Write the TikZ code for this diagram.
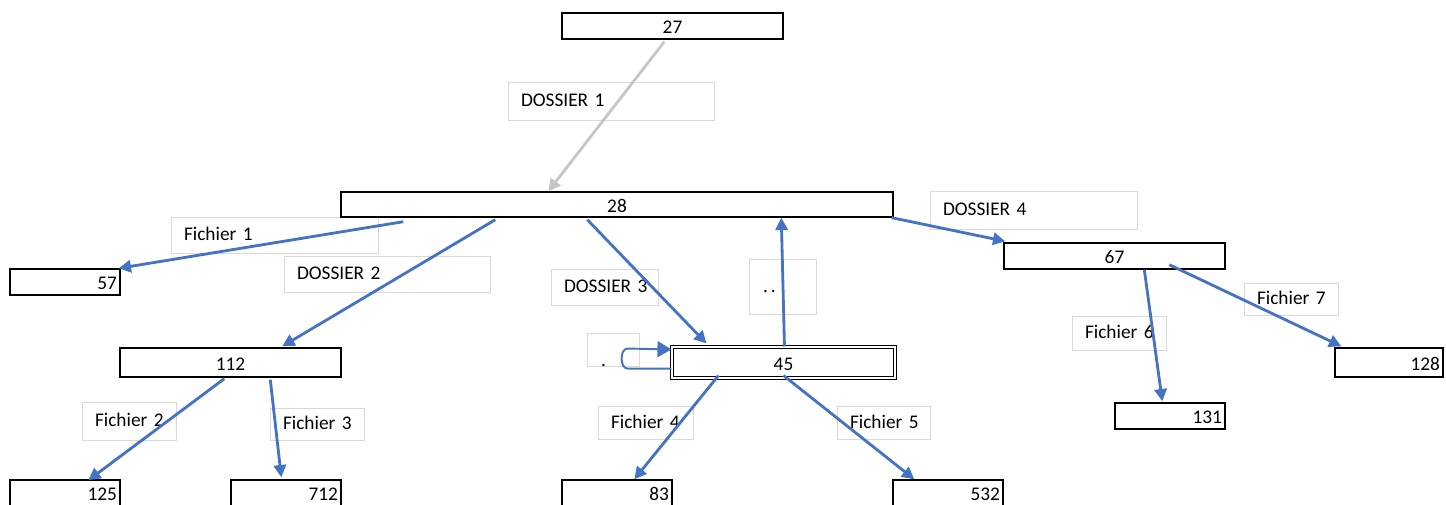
\documentclass[tikz,border=0pt]{standalone}
\usepackage{fontspec}
\setmainfont{Carlito}
\usetikzlibrary{arrows.meta,calc}
\newdimen\pxu
\pxu=0.02cm
\definecolor{arrblue}{HTML}{4472C4}
\definecolor{lblgray}{HTML}{D9D9D9}
\tikzset{
  numbox/.style={draw=black, line width=0.8pt, fill=white, inner ysep=0pt, inner xsep=3\pxu,
     font=\fontsize{11}{13}\selectfont, text height=2.0ex, text depth=0.2ex},
  lblbox/.style={draw=lblgray, line width=0.5pt, inner ysep=0pt, inner xsep=13\pxu, align=left,
     font=\fontsize{11}{13}\selectfont, text height=1.6ex, text depth=0.2ex},
  arr/.style={draw=arrblue, line width=1.6pt, -{Triangle[length=7pt,width=7pt]}},
  grayarr/.style={draw=lightgray!90!white, line width=1.6pt, -{Triangle[length=7pt,width=7pt]}},
}
\begin{document}
\begin{tikzpicture}[x=\pxu, y=-\pxu]
\useasboundingbox (0,0) rectangle (1446,504);
% label boxes
\node[lblbox, minimum width=206\pxu, minimum height=38\pxu, text width=180\pxu] (lD1) at (611,101) {\mbox{DOSSIER 1}};
\node[lblbox, minimum width=207\pxu, minimum height=36\pxu, text width=181\pxu] (lF1) at (274.5,235) {\mbox{Fichier 1}};
\node[lblbox, minimum width=206\pxu, minimum height=36\pxu, text width=180\pxu] (lD2) at (387,274) {\mbox{DOSSIER 2}};
\node[lblbox, minimum width=107\pxu, minimum height=36\pxu, text width=81\pxu] (lD3) at (604.5,287) {\mbox{DOSSIER 3}};
\node[draw=lblgray, line width=0.5pt, inner sep=0pt, minimum width=67\pxu, text width=67\pxu, align=left, text height=33\pxu, text depth=22\pxu, font=\fontsize{11}{13}\selectfont] (ldd) at (782.5,287) {\hspace*{14\pxu}.\hspace{3\pxu}.};
\node[draw=lblgray, line width=0.5pt, inner sep=0pt, minimum width=52\pxu, text width=52\pxu, align=left, text height=33\pxu, text depth=0pt, font=\fontsize{11}{13}\selectfont] (ldot) at (613,349.5) {\hspace*{14\pxu}.};
\node[lblbox, minimum width=207\pxu, minimum height=38\pxu, text width=181\pxu] (lD4) at (1033.5,210) {\mbox{DOSSIER 4}};
\node[lblbox, minimum width=94\pxu, minimum height=34\pxu, text width=68\pxu] (lF6) at (1119,333) {\mbox{Fichier 6}};
\node[lblbox, minimum width=94\pxu, minimum height=32\pxu, text width=68\pxu] (lF7) at (1291,299) {\mbox{Fichier 7}};
\node[lblbox, minimum width=94\pxu, minimum height=38\pxu, text width=68\pxu] (lF2) at (129,421) {\mbox{Fichier 2}};
\node[lblbox, minimum width=94\pxu, minimum height=32\pxu, text width=68\pxu] (lF3) at (317,424) {\mbox{Fichier 3}};
\node[lblbox, minimum width=95\pxu, minimum height=33\pxu, text width=69\pxu] (lF4) at (645.5,422.5) {\mbox{Fichier 4}};
\node[lblbox, minimum width=93\pxu, minimum height=33\pxu, text width=67\pxu] (lF5) at (883.5,422.5) {\mbox{Fichier 5}};
% number boxes
\node[numbox, minimum height=26\pxu, text width=215\pxu, align=center] (n27) at (672.5,26) {27};
\node[numbox, minimum height=25\pxu, text width=546\pxu, align=center] (n28) at (617,204.5) {28};
\node[numbox, minimum height=26\pxu, text width=104\pxu, align=right] (n57) at (65,282) {57};
\node[numbox, minimum height=29\pxu, text width=215\pxu, align=center] (n112) at (230.5,362.5) {112};
\node[numbox, double, double distance=1.2pt, line width=0.6pt, minimum height=31\pxu, text width=217\pxu, align=center] (n45) at (783.5,362.5) {45};
\node[numbox, minimum height=26\pxu, text width=215\pxu, align=center] (n67) at (1114.5,256) {67};
\node[numbox, minimum height=29\pxu, text width=102\pxu, align=right] (n128) at (1389,362.5) {128};
\node[numbox, minimum height=26\pxu, text width=104\pxu, align=right] (n131) at (1170,416) {131};
\node[numbox, minimum height=26\pxu, text width=104\pxu, align=right] (n125) at (65,493) {125};
\node[numbox, minimum height=26\pxu, text width=104\pxu, align=right] (n712) at (286,493) {712};
\node[numbox, minimum height=26\pxu, text width=104\pxu, align=right] (n83) at (617,493) {83};
\node[numbox, minimum height=26\pxu, text width=104\pxu, align=right] (n532) at (948,493) {532};
% arrows
\draw[grayarr] ($(n27.south west)+(103,2)$) -- ($(n28.north west)+(208,0)$);
\draw[arr] ($(n28.south west)+(63,4)$) -- ($(n57.north east)+(-2,0)$);
\draw[arr] ($(n28.south west)+(155,2)$) -- ($(n112.north west)+(163,-1)$);
\draw[arr] ($(n28.south west)+(247,2)$) -- ($(n45.north west)+(35,-3)$);
\draw[arr] ($(n45.north west)+(113,0)$) -- ($(n28.south west)+(441,0)$);
\draw[arr] ($(n28.south east)+(-2,0)$) -- ($(n67.north west)+(2,-1)$);
\draw[arr] ($(n67.south west)+(141,0)$) -- ($(n131.north west)+(48,-1)$);
\draw[arr] ($(n67.south west)+(166,-5)$) -- ($(n128.north west)+(7,-1)$);
\draw[arr] ($(n112.south west)+(105,1)$) -- ($(n125.north west)+(79,1)$);
\draw[arr] ($(n112.south west)+(151,2)$) -- ($(n712.north west)+(51,-2)$);
\draw[arr] ($(n45.south west)+(47,-3)$) -- ($(n83.north west)+(73,0)$);
\draw[arr] ($(n45.south west)+(112,-3)$) -- ($(n532.north west)+(22,0)$);
\draw[draw=arrblue, line width=1.1pt, -{Triangle[length=8pt,width=9pt]}]
  ($(n45.south west)+(0,-10)$) -- ++(-44,0) to[out=180,in=180] ++(0,-20) -- ($(n45.north west)+(0,3)$);
\end{tikzpicture}
\end{document}
